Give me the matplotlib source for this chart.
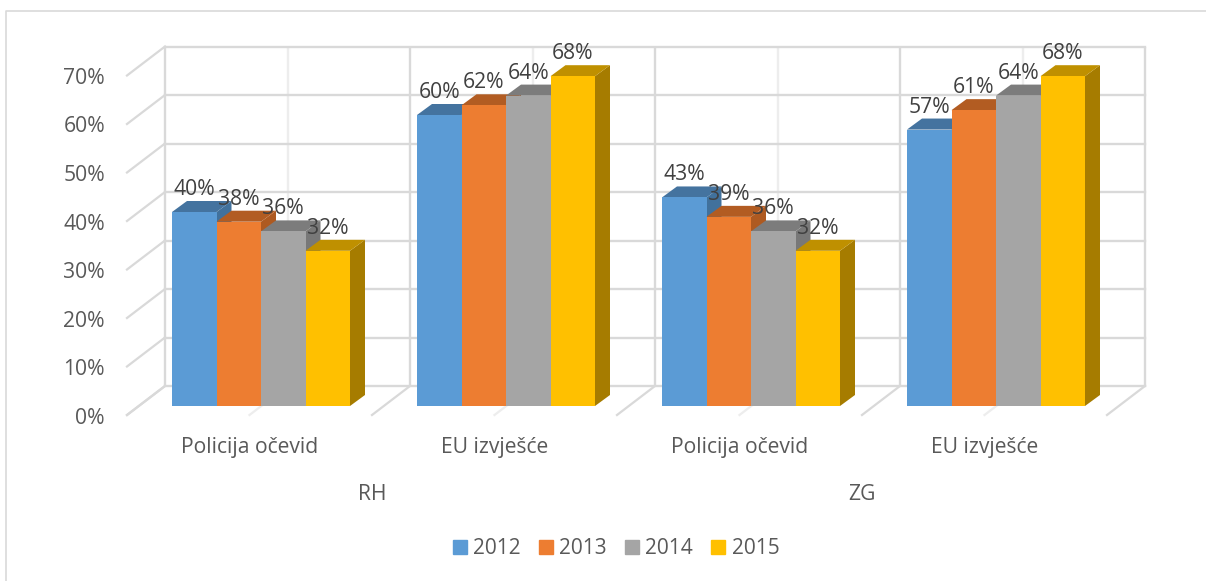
import matplotlib
matplotlib.use('Agg')
import matplotlib.pyplot as plt
from matplotlib.patches import Patch, Polygon

plt.rcParams['font.family'] = ['Open Sans', 'DejaVu Sans']

# Data
years = ['2012', '2013', '2014', '2015']
categories = ['Policija očevid', 'EU izvješće', 'Policija očevid', 'EU izvješće']
regions = ['RH', 'ZG']
values_2012 = [40, 60, 43, 57]
values_2013 = [38, 62, 39, 61]
values_2014 = [36, 64, 36, 64]
values_2015 = [32, 68, 32, 68]
y_ticks = [0, 10, 20, 30, 40, 50, 60, 70]

series = [values_2012, values_2013, values_2014, values_2015]
front_colors = ['#5B9BD5', '#ED7D31', '#A5A5A5', '#FFC000']
top_colors = ['#44739F', '#B25C22', '#7C7C7C', '#BF9000']
side_colors = ['#41719C', '#AE5A21', '#787878', '#A67C00']
grid_major = '#D9D9D9'
grid_minor = '#EDEDED'

# Scale: one category = 245 px, 10 % = 48.5 px, bars stand on the 0 line
W, H = 1206, 581
PX_X = 245.0
PX_Y = 4.85
X0 = 261.0   # pixel centre of first category
Y0 = 406.0   # pixel of 0 %


def dx(px):
    return px / PX_X


def dy(px):
    return px / PX_Y


fig = plt.figure(figsize=(W / 100, H / 100), dpi=100)
ax = fig.add_axes([0, 0, 1, 1])
ax.set_xlim(-X0 / PX_X, (W - X0) / PX_X)
ax.set_ylim((Y0 - H) / PX_Y, Y0 / PX_Y)
ax.axis('off')

# Outer chart frame (left and top only show in the crop)
ax.plot([dx(6.5 - X0), dx(6.5 - X0), dx(W - X0)],
        [dy(Y0 - H), dy(Y0 - 10.5), dy(Y0 - 10.5)], color='#D9D9D9', lw=1.2)

# Walls of the 3D box
n = len(categories)
wall_left = dx(165 - X0)
wall_right = wall_left + n
back_base = dy(20)     # back wall sits 20 px above the bar baseline
front_base = dy(-9)    # front edge of the floor
front_left = dx(127 - X0)
v_top = back_base + y_ticks[-1]

# back wall gridlines
for v in y_ticks:
    ax.plot([wall_left, wall_right], [back_base + v, back_base + v],
            color=grid_major, lw=1.7, zorder=1, solid_capstyle='projecting')
    # left wall diagonals
    ax.plot([front_left, wall_left], [front_base + v, back_base + v],
            color=grid_major, lw=1.6, zorder=1)

# verticals on back wall
for i in range(n * 2 + 1):
    x = wall_left + i * 0.5
    major = i % 2 == 0
    ax.plot([x, x], [back_base, v_top], color=grid_major if major else grid_minor,
            lw=1.7, zorder=1 if major else 0.5, solid_capstyle='butt')
    # floor diagonals
    ax.plot([x - dx(38), x], [front_base, back_base],
            color=grid_major if major else grid_minor, lw=1.6,
            zorder=1 if major else 0.5)

# Bars, left to right so the next front hides the side of the previous one
bar_w = 44.5 / PX_X
depth_x = dx(15)
depth_y = dy(11)
z = 2
for c in range(n):
    for s in range(len(series)):
        val = series[s][c]
        left = c + (s - 2) * bar_w
        right = left + bar_w
        side = Polygon([(right, 0), (right + depth_x, depth_y),
                        (right + depth_x, val + depth_y), (right, val)],
                       closed=True, fc=side_colors[s], ec='none', zorder=z)
        top = Polygon([(left, val), (left + depth_x, val + depth_y),
                       (right + depth_x, val + depth_y), (right, val)],
                      closed=True, fc=top_colors[s], ec='none', zorder=z)
        ax.add_patch(side)
        ax.add_patch(top)
        ax.bar(left, val, width=bar_w, align='edge', color=front_colors[s],
               zorder=z + 0.5)
        z += 1

# Data labels on top of everything
for c in range(n):
    for s in range(len(series)):
        val = series[s][c]
        ax.text(c + (s - 1.5) * bar_w, val + dy(22.5), f'{val}%', fontsize=15.2,
                color='#404040', ha='center', va='center', zorder=100)

# Y tick labels
for v in y_ticks:
    ax.text(dx(105 - X0), front_base + v - dy(3), f'{v}%', fontsize=15.2, color='#595959',
            ha='right', va='center')

# Category and region labels
for c in range(n):
    ax.text(c - dx(11.5), dy(-41), categories[c], fontsize=15.2, color='#595959',
            ha='center', va='center')
for r in range(len(regions)):
    ax.text(dx(372 - X0) + r * 2, dy(-88), regions[r], fontsize=15.2, color='#595959',
            ha='center', va='center')

handles = [Patch(color=front_colors[i], label=years[i]) for i in range(len(years))]
ax.legend(handles=handles, loc='center', bbox_to_anchor=(616 / W, 1 - 549 / H),
          bbox_transform=fig.transFigure, ncol=4, frameon=False, fontsize=15,
          labelcolor='#595959', handlelength=0.67, handleheight=0.67, handletextpad=0.3,
          columnspacing=0.88, borderpad=0)

plt.savefig('out.png', dpi=100)
